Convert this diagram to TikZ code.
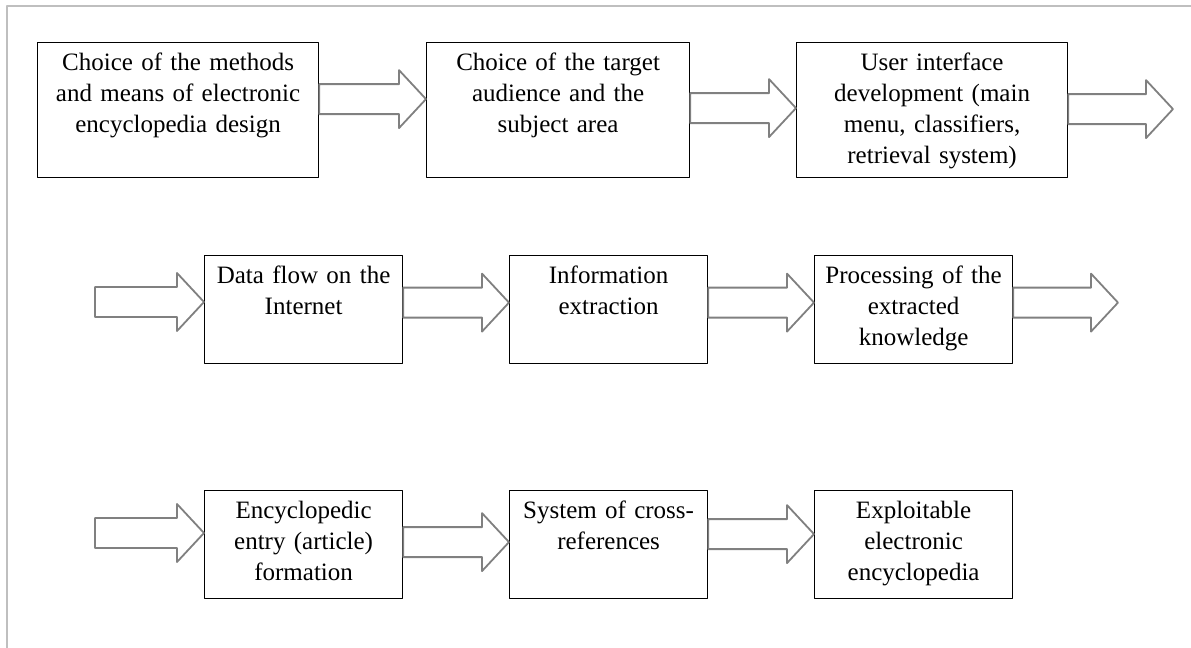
\documentclass[tikz,border=0pt]{standalone}
\usepackage{fontspec}
\setmainfont{Liberation Serif}
\usetikzlibrary{calc}

\newcommand\blockarrow[2]{%
  \draw[blockarr] let \p1=(#1), \p2=(#2) in
    (\x1,\y1+7.5pt) -- (\x2-13.5pt,\y1+7.5pt) -- (\x2-13.5pt,\y1+14.5pt) -- (\x2,\y1)
    -- (\x2-13.5pt,\y1-14.5pt) -- (\x2-13.5pt,\y1-7.5pt) -- (\x1,\y1-7.5pt) -- cycle;}

\begin{document}
\begin{tikzpicture}[x=0.5pt, y=-0.5pt, line cap=round, line join=round,
    stage/.style={draw=black, line width=0.6pt, anchor=north west, align=center,
      inner sep=0pt, font=\fontsize{12.5}{15.5}\selectfont, text height=14pt},
    tall/.style={stage, text depth=53.5pt},
    short/.style={stage, text depth=40pt, text width=99pt},
    blockarr/.style={draw=black!50, line width=0.9pt, fill=white},
    frame/.style={draw=black!25, line width=1pt}]
    \useasboundingbox (0,0) rectangle (1191,648);
    \draw[frame] (1191,5.5) -- (6.5,5.5) -- (6.5,648);

    \node[tall, text width=140.5pt] (methods) at (37,42) {Choice of the methods\\and means of electronic\\encyclopedia design};
    \node[tall, text width=131.5pt] (audience) at (426,42) {Choice of the target\\audience and the\\subject area};
    \node[tall, text width=135.5pt] (interface) at (796,42) {User interface\\development (main\\menu, classifiers,\\retrieval system)};

    \node[short] (dataflow) at (204,255) {Data flow on the\\Internet};
    \node[short] (extraction) at (509,255) {Information\\extraction};
    \node[short] (processing) at (814,255) {Processing of the\\extracted\\knowledge};

    \node[short] (entry) at (204,490) {Encyclopedic\\entry (article)\\formation};
    \node[short] (crossref) at (509,490) {System of cross-\\references};
    \node[short] (exploit) at (814,490) {Exploitable\\electronic\\encyclopedia};

    \coordinate (out1) at (1173,108);
    \coordinate (in2) at (95,302);
    \coordinate (out2) at (1118,302);
    \coordinate (in3) at (95,533);

    \blockarrow{$(methods.east)+(0,-11)$}{audience.west}
    \blockarrow{$(audience.east)+(0,-2)$}{interface.west}
    \blockarrow{$(interface.east)+(0,-1)$}{out1}
    \blockarrow{in2}{dataflow.west}
    \blockarrow{$(dataflow.east)+(0,-7)$}{extraction.west}
    \blockarrow{$(extraction.east)+(0,-7)$}{processing.west}
    \blockarrow{$(processing.east)+(0,-7)$}{out2}
    \blockarrow{in3}{entry.west}
    \blockarrow{$(entry.east)+(0,-2.5)$}{crossref.west}
    \blockarrow{$(crossref.east)+(0,-10.5)$}{exploit.west}
  \end{tikzpicture}
\end{document}
